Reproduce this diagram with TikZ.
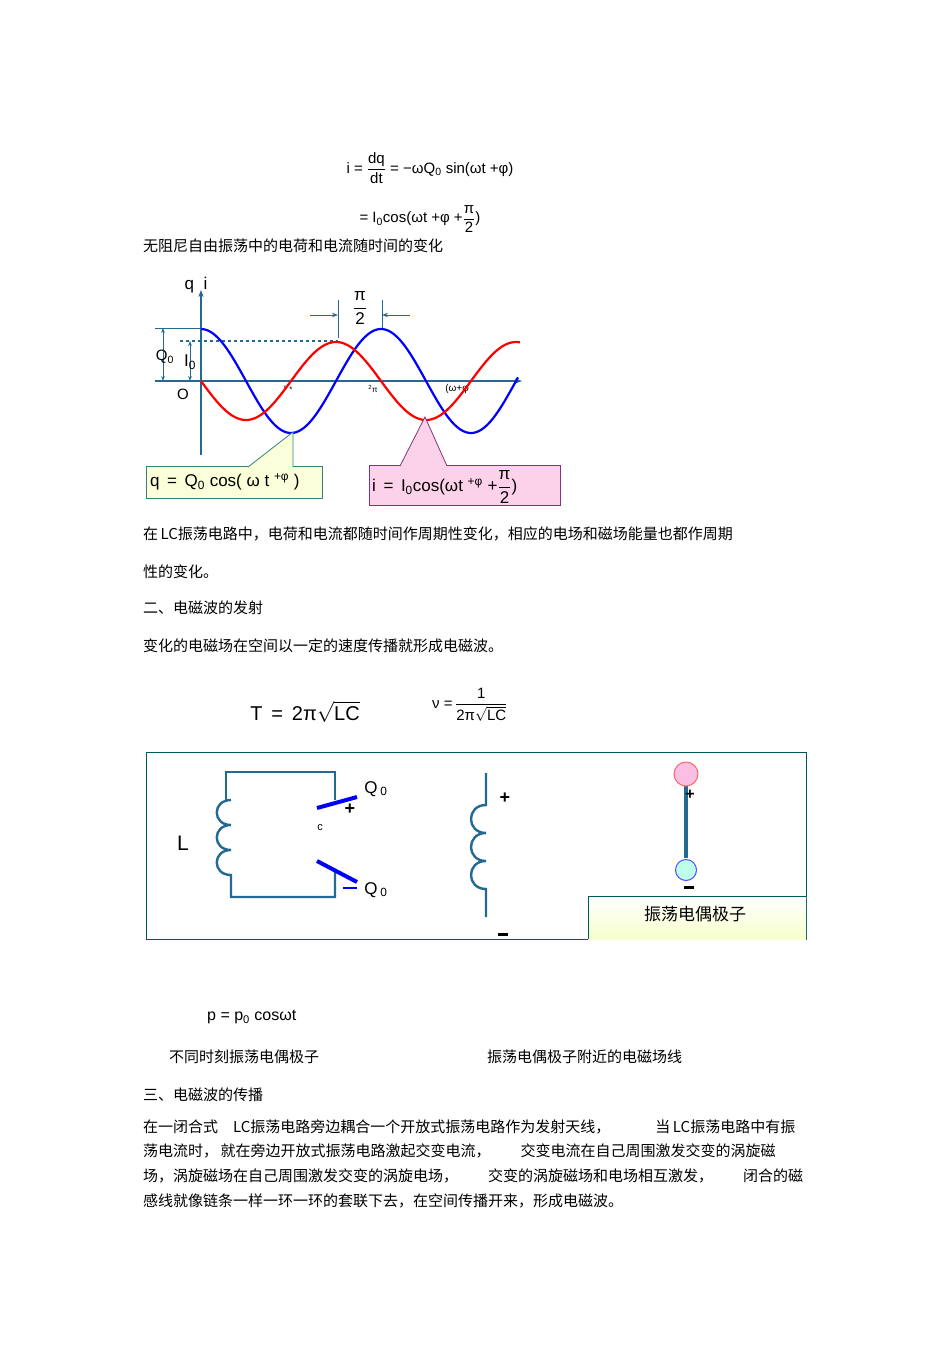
\documentclass[tikz,border=0pt]{standalone}
\usepackage{amsmath}
\usepackage{fontspec}
\setmainfont{Liberation Sans}
\newfontfamily\cjk{Noto Sans CJK SC}
\usetikzlibrary{arrows.meta}
\definecolor{axc}{RGB}{35,105,145}
\newcommand{\tfr}[2]{$\dfrac{\text{#1}}{\text{#2}}$}
\newcommand{\zs}{\textsubscript{0}}
\begin{document}
\begin{tikzpicture}[x=1pt,y=-1pt,
 ax/.style={draw=axc,line width=1.6pt},
 wire/.style={draw=axc,line width=2.4pt},
 cn/.style={font=\cjk\fontsize{15}{15}\selectfont,anchor=west,inner sep=0},
 fm/.style={font=\fontsize{15}{15}\selectfont,inner sep=0}]
\useasboundingbox (0,0) rectangle (950,1345);
% top formulas
\node[fm] (f1) at (430,168) {i = \tfr{dq}{dt} = −ωQ\zs{} sin(ωt +φ)};
\node[fm] (f2) at (420,219) {= I\zs{}cos(ωt +φ +\tfr{π}{2})};
\node[cn] (t1) at (143,246) {无阻尼自由振荡中的电荷和电流随时间的变化};
% axes
\draw[ax,-{Stealth[length=7pt]}] (201,455) -- (201,290);
\draw[ax,-{Stealth[length=7pt]}] (155,381) -- (522,381);
\node[fm,font=\fontsize{17}{17}\selectfont] (qi) at (196,285) {q\; i};
\draw[ax,line width=1pt] (155,328) -- (201,328);
\draw[ax,line width=1pt,{Stealth[length=5pt]}-{Stealth[length=5pt]}] (163,328) -- (163,381);
\draw[ax,line width=1pt,{Stealth[length=5pt]}-{Stealth[length=5pt]}] (190,341) -- (190,381);
\draw[ax,line width=1.2pt,dashed] (180,341) -- (338,341);
\node[fm] (q0) at (165,357) {Q\zs};
\node[fm,font=\fontsize{17}{17}\selectfont] (i0) at (190,362) {I\zs};
\node[fm] (o) at (183,394) {O};
\node[font=\fontsize{8}{8}\selectfont] (p1) at (288,389) {\textsuperscript{π}\,*};
\node[font=\fontsize{8}{8}\selectfont] (p2) at (373,389) {\textsuperscript{2}π};
\node[font=\fontsize{10}{10}\selectfont] (p3) at (457,389) {(ω+φ};
% pi/2 marker
\draw[ax,line width=1pt] (338,338) -- (338,300);
\draw[ax,line width=1pt] (382,328) -- (382,300);
\draw[ax,line width=1pt,-{Stealth[length=6pt]}] (310,315) -- (338,315);
\draw[ax,line width=1pt,-{Stealth[length=6pt]}] (410,315) -- (382,315);
\node[fm,font=\fontsize{17}{17}\selectfont] (pf) at (360,308) {\tfr{π}{2}};
% curves
\draw[blue,line width=2.2pt,domain=201:518,samples=150] plot (\x,{381-52*cos((\x-201)*2)});
\draw[red,line width=2.2pt,domain=201:520,samples=150] plot (\x,{381+39*sin((\x-201)*2)});
% callouts
\draw[draw=teal!60!gray,fill=green!12!yellow!15,line width=0.8pt] (146,466) rectangle (322,498);
\draw[draw=teal!60!gray,fill=green!12!yellow!15,line width=0.8pt] (248,467) -- (293,432) -- (293,467);
\node[fm,font=\fontsize{17}{17}\selectfont,anchor=west] (qq) at (150,482) {q \,=\, Q\zs{} cos( ω t \textsuperscript{+φ} )};
\draw[draw=violet!60!gray,fill=magenta!18,line width=0.8pt] (369,465) rectangle (560,505);
\draw[draw=violet!60!gray,fill=magenta!18,line width=0.8pt] (400,466) -- (425,417) -- (447,466);
\node[fm,font=\fontsize{17}{17}\selectfont,anchor=west] (ii) at (372,487) {i \,=\, I\zs{}cos(ωt \textsuperscript{+φ} +\tfr{π}{2})};
% texts
\node[cn] (t2) at (143,534) {在\,LC振荡电路中，电荷和电流都随时间作周期性变化，相应的电场和磁场能量也都作周期};
\node[cn] (t3) at (143,572) {性的变化。};
\node[cn] (t4) at (143,608) {二、电磁波的发射};
\node[cn] (t5) at (143,646) {变化的电磁场在空间以一定的速度传播就形成电磁波。};
\node[fm,font=\fontsize{20}{20}\selectfont] (T) at (305,712) {T \,=\, 2π$\sqrt{\text{LC}}$};
\node[fm,anchor=west] (nu) at (432,705) {ν =\,\tfr{1}{2π$\sqrt{\text{LC}}$}};
% box
\draw[draw=teal!70!black,line width=1pt] (146,752) rectangle (806,939);
% LC circuit
\draw[wire] (231,800) -- (226,800) -- (226,772) -- (335,772) -- (335,800);
\draw[wire] (231,800) .. controls (212,800) and (212,825) .. (231,825)
  .. controls (212,825) and (212,850) .. (231,850)
  .. controls (212,850) and (212,875) .. (231,875) -- (231,897) -- (335,897) -- (335,870);
\draw[blue,line width=4pt] (317,808) -- (357,797);
\draw[blue,line width=4pt] (317,861) -- (357,882);
\draw[blue,line width=1.5pt] (343,888) -- (357,888);
\node[font=\fontsize{18}{18}\selectfont\bfseries] (pl) at (350,809) {+};
\node[fm,font=\fontsize{17}{17}\selectfont] (qa) at (376,789) {Q\,\zs};
\node[fm,font=\fontsize{17}{17}\selectfont] (qb) at (376,890) {Q\,\zs};
\node[font=\fontsize{11}{11}\selectfont] (c) at (320,828) {c};
\node[fm,font=\fontsize{21}{21}\selectfont] (L) at (183,843) {L};
% middle coil
\draw[wire] (486,773) -- (486,805) .. controls (466,805) and (466,833) .. (486,833)
  .. controls (466,833) and (466,861) .. (486,861)
  .. controls (466,861) and (466,889) .. (486,889) -- (486,917);
\node[font=\fontsize{18}{18}\selectfont\bfseries] (pm) at (505,798) {+};
\draw[line width=3pt] (498,934) -- (508,934);
% dipole
\draw[wire,line width=4pt] (686,786) -- (686,858);
\draw[red!60,fill=magenta!25,line width=1pt] (686,774) circle (12);
\draw[blue!70,fill=green!35!cyan!25,line width=1pt] (686,870) circle (10.5);
\node[font=\fontsize{16}{16}\selectfont\bfseries] (pd) at (690,795) {+};
\draw[line width=3pt] (684,887) -- (694,887);
\shade[top color=white,bottom color=green!15!yellow!20] (588,896) rectangle (806,939);
\draw[draw=teal!70!black,line width=1pt] (588,939) -- (588,896) -- (806,896);
\node[cn,anchor=center,font=\cjk\fontsize{17}{17}\selectfont] (dl) at (695,914) {振荡电偶极子};
% lower texts
\node[fm,font=\fontsize{16}{16}\selectfont,anchor=west] (p) at (207,1017) {p = p\zs{} cosωt};
\node[cn] (c1) at (169,1057) {不同时刻振荡电偶极子};
\node[cn] (c2) at (487,1057) {振荡电偶极子附近的电磁场线};
\node[cn] (t6) at (143,1095) {三、电磁波的传播};
\node[cn] (l1) at (143,1127) {在一闭合式\quad LC振荡电路旁边耦合一个开放式振荡电路作为发射天线，\qquad\quad 当\,LC振荡电路中有振};
\node[cn] (l2) at (143,1151) {荡电流时，\,就在旁边开放式振荡电路激起交变电流，\qquad 交变电流在自己周围激发交变的涡旋磁};
\node[cn] (l3) at (143,1176) {场，涡旋磁场在自己周围激发交变的涡旋电场，\qquad 交变的涡旋磁场和电场相互激发，\qquad 闭合的磁};
\node[cn] (l4) at (143,1201) {感线就像链条一样一环一环的套联下去，在空间传播开来，形成电磁波。};
\end{tikzpicture}
\end{document}
